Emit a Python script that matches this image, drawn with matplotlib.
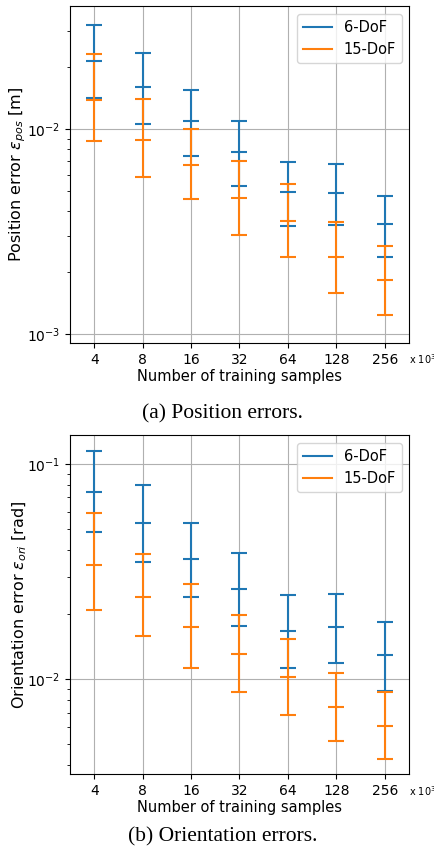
"""Position / orientation errors vs. number of training samples (6-DoF vs 15-DoF)."""

import matplotlib

matplotlib.use("Agg")
import matplotlib.pyplot as plt
from matplotlib.lines import Line2D
import numpy as np

samples = ["4", "8", "16", "32", "64", "128", "256"]  # x 10^3

# position error [m]: upper, middle, lower tick of each bar
pos_6_hi = [0.0321, 0.0235, 0.0156, 0.0109, 0.0069, 0.00674, 0.00473]
pos_6_mid = [0.0215, 0.0160, 0.0109, 0.00775, 0.00491, 0.00487, 0.00343]
pos_6_lo = [0.0142, 0.0106, 0.00741, 0.00528, 0.00336, 0.00339, 0.00238]
pos_15_hi = [0.0233, 0.0141, 0.0100, 0.00703, 0.0054, 0.00354, 0.00269]
pos_15_mid = [0.0139, 0.0089, 0.00672, 0.0046, 0.00358, 0.00238, 0.00183]
pos_15_lo = [0.00877, 0.00585, 0.00456, 0.00305, 0.00239, 0.00158, 0.00124]

# orientation error [rad]
ori_6_hi = [0.1148, 0.0801, 0.0534, 0.0385, 0.0245, 0.0249, 0.0185]
ori_6_mid = [0.0744, 0.0530, 0.0361, 0.0263, 0.0168, 0.0174, 0.01291]
ori_6_lo = [0.0483, 0.0351, 0.0241, 0.0176, 0.01133, 0.01186, 0.00883]
ori_15_hi = [0.0592, 0.0380, 0.0278, 0.0199, 0.01535, 0.0107, 0.00877]
ori_15_mid = [0.0340, 0.0240, 0.0174, 0.01305, 0.01019, 0.00741, 0.00607]
ori_15_lo = [0.0210, 0.0159, 0.0113, 0.00871, 0.00683, 0.00518, 0.00428]

C6 = "#1f77b4"
C15 = "#ff7f0e"


def draw_panel(ax, series, ylabel, ylim):
    x = np.arange(len(samples))
    for hi, mid, lo, color in series:
        hi, mid, lo = map(np.asarray, (hi, mid, lo))
        ax.errorbar(
            x, mid, yerr=[mid - lo, hi - mid],
            fmt="_", color=color, ecolor=color,
            markersize=12, mew=1.5, elinewidth=1.5, capsize=6, capthick=1.5,
        )
    ax.set_yscale("log")
    ax.set_ylim(*ylim)
    ax.set_xlim(-0.5, len(samples) - 0.5)
    ax.set_xticks(x)
    ax.set_xticklabels(samples)
    ax.grid(True, which="major", color="#b0b0b0", lw=0.8)
    ax.set_axisbelow(True)
    ax.set_xlabel("Number of training samples", labelpad=2, fontsize=10.5)
    ax.set_ylabel(ylabel, fontsize=11.5, labelpad=-1)
    ax.annotate("x 10$^3$", xy=(1.0, 0.0), xycoords="axes fraction",
                xytext=(0, -12), textcoords="offset points",
                ha="left", va="center", fontsize=7)
    handles = [Line2D([], [], color=C6, lw=1.5), Line2D([], [], color=C15, lw=1.5)]
    ax.legend(handles, ["6-DoF", "15-DoF"], loc="upper right", fontsize=10.5,
              bbox_to_anchor=(1 - 7 / 339, 1 - 8 / 337), borderaxespad=0)


fig = plt.figure(figsize=(4.35, 8.57), dpi=100)
ax1 = fig.add_axes([0.161, 0.600, 0.779, 0.393])
ax2 = fig.add_axes([0.161, 0.0969, 0.779, 0.3955])

draw_panel(ax1,
           [(pos_6_hi, pos_6_mid, pos_6_lo, C6), (pos_15_hi, pos_15_mid, pos_15_lo, C15)],
           r"Position error $\varepsilon_{pos}$ [m]", (0.000907, 0.0399))
draw_panel(ax2,
           [(ori_6_hi, ori_6_mid, ori_6_lo, C6), (ori_15_hi, ori_15_mid, ori_15_lo, C15)],
           r"Orientation error $\varepsilon_{ori}$ [rad]", (0.00363, 0.1364))

fig.text(0.512, 0.517, "(a) Position errors.", ha="center", va="center",
         family="Liberation Serif", fontsize=15.5)
fig.text(0.512, 0.024, "(b) Orientation errors.", ha="center", va="center",
         family="Liberation Serif", fontsize=15.5)

fig.savefig("out.png", dpi=100)
